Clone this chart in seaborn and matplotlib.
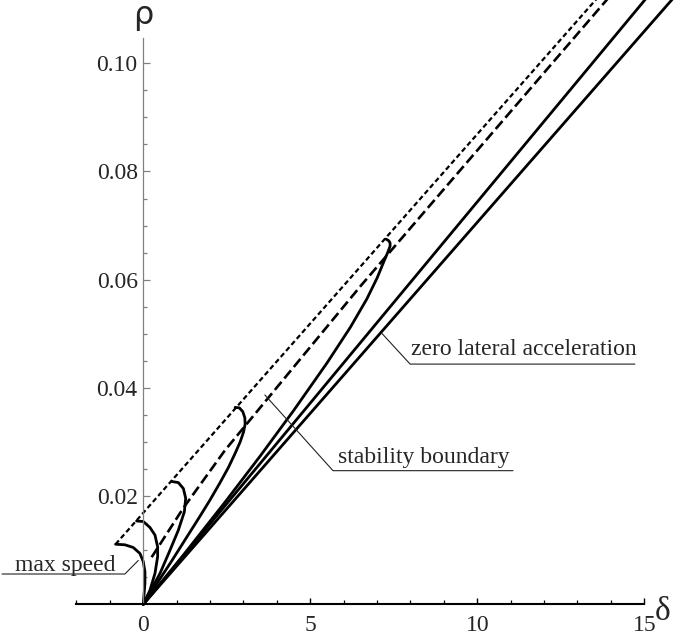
import pandas as pd
import matplotlib
matplotlib.use("Agg")
import matplotlib.pyplot as plt
from matplotlib.ticker import FixedLocator
import seaborn as sns

# speed curves: each starts on the max speed line and runs back to the origin
curve_a_delta = [7.27, 7.35, 7.39, 7.39, 7.33, 7.20, 7.00, 6.69, 6.20, 5.50, 4.50, 3.50, 2.45, 1.20, 0.0]
curve_a_rho = [0.0675, 0.0672, 0.0668, 0.0662, 0.0652, 0.0633, 0.0603, 0.0564, 0.0512, 0.0446, 0.0358, 0.0274, 0.0189, 0.0091, 0.0]

curve_b_delta = [2.75, 2.88, 2.98, 3.04, 3.05, 3.00, 2.90, 2.75, 2.55, 2.30, 2.00, 1.70, 0.85, 0.0]
curve_b_rho = [0.0364, 0.0363, 0.0356, 0.0345, 0.0333, 0.0318, 0.0300, 0.0279, 0.0253, 0.0225, 0.0193, 0.0163, 0.0080, 0.0]

curve_c_delta = [0.85, 1.05, 1.20, 1.27, 1.23, 1.05, 0.80, 0.50, 0.0]
curve_c_rho = [0.0227, 0.0225, 0.0214, 0.0196, 0.0171, 0.0137, 0.0100, 0.0057, 0.0]

curve_d_delta = [-0.20, 0.0, 0.20, 0.35, 0.43, 0.43, 0.35, 0.20, 0.0]
curve_d_rho = [0.0154, 0.0153, 0.0142, 0.0128, 0.0106, 0.0088, 0.0057, 0.0026, 0.0]

curve_e_delta = [-0.83, -0.55, -0.30, -0.10, 0.0, 0.05, 0.05, 0.0]
curve_e_rho = [0.0111, 0.0110, 0.0105, 0.0094, 0.0079, 0.0060, 0.0039, 0.0]

# zero lateral acceleration lines
zero_lat_1_delta = [0.0, 15.5]
zero_lat_1_rho = [0.0, 0.1153]
zero_lat_2_delta = [0.0, 16.5]
zero_lat_2_rho = [0.0, 0.1165]

# stability boundary (long dashes)
stab_delta = [0.25, 1.20, 2.45, 6.53, 14.5]
stab_rho = [0.0087, 0.0178, 0.0285, 0.0590, 0.1162]

# max speed line (short dashes)
maxspeed_delta = [-0.83, 14.5]
maxspeed_rho = [0.0111, 0.1184]

x_major = [0, 5, 10, 15]
x_labels = ["0", "5", "10", "15"]
x_minor = list(range(-2, 16))
y_major = [0.02, 0.04, 0.06, 0.08, 0.10]
y_labels = ["0.02", "0.04", "0.06", "0.08", "0.10"]
y_minor = [i * 0.005 for i in range(1, 21)]


def main():
    sns.set_style("white")
    plt.rcParams["font.family"] = ["Liberation Serif", "DejaVu Serif"]
    plt.rcParams["lines.scale_dashes"] = False

    fig = plt.figure(figsize=(6.85, 6.4), dpi=100)
    ax = fig.add_axes([0, 0, 1, 1])

    curves = [
        (curve_a_delta, curve_a_rho),
        (curve_b_delta, curve_b_rho),
        (curve_c_delta, curve_c_rho),
        (curve_d_delta, curve_d_rho),
        (curve_e_delta, curve_e_rho),
        (zero_lat_1_delta, zero_lat_1_rho),
        (zero_lat_2_delta, zero_lat_2_rho),
    ]
    for d, r in curves:
        df = pd.DataFrame({"delta": d, "rho": r})
        sns.lineplot(data=df, x="delta", y="rho", sort=False, estimator=None,
                     color="black", linewidth=2.0, ax=ax)

    df = pd.DataFrame({"delta": stab_delta, "rho": stab_rho})
    sns.lineplot(data=df, x="delta", y="rho", sort=False, estimator=None,
                 color="black", linewidth=1.9, linestyle=(0, (7.5, 3.2)), ax=ax)

    df = pd.DataFrame({"delta": maxspeed_delta, "rho": maxspeed_rho})
    sns.lineplot(data=df, x="delta", y="rho", sort=False, estimator=None,
                 color="black", linewidth=1.6, linestyle=(0, (3.6, 2.2)), ax=ax)

    ax.set_xlim(-4.29, 16.22)
    ax.set_ylim(-0.0066, 0.1117)

    # axes through the origin
    for side in ["top", "right"]:
        ax.spines[side].set_visible(False)
    ax.spines["bottom"].set_position(("data", 0))
    ax.spines["left"].set_position(("data", 0))
    ax.spines["bottom"].set_bounds(-2, 15)
    ax.spines["left"].set_bounds(0, 0.1046)
    ax.spines["bottom"].set_color("black")
    ax.spines["bottom"].set_linewidth(1.5)
    ax.spines["left"].set_color("#808080")
    ax.spines["left"].set_linewidth(0.9)

    ax.xaxis.set_major_locator(FixedLocator(x_major))
    ax.set_xticklabels(x_labels)
    ax.xaxis.set_minor_locator(FixedLocator(x_minor))
    ax.yaxis.set_major_locator(FixedLocator(y_major))
    ax.set_yticklabels(y_labels)
    ax.yaxis.set_minor_locator(FixedLocator(y_minor))

    ax.tick_params(axis="x", which="both", direction="in", bottom=True,
                   color="black", labelsize=17, pad=8)
    ax.tick_params(axis="x", which="major", length=4, width=1.0)
    ax.tick_params(axis="x", which="minor", length=3, width=0.9)
    ax.tick_params(axis="y", which="both", direction="in", left=True,
                   color="#808080", labelsize=17, pad=4)
    ax.tick_params(axis="y", which="major", length=5, width=0.9)
    ax.tick_params(axis="y", which="minor", length=3, width=0.9)
    ax.set_xlabel("")
    ax.set_ylabel("")

    # axis symbols
    ax.text(0, 0.1089, "ρ", fontsize=23, ha="center", va="center",
            family=["DejaVu Sans"])
    ax.text(15.56, -0.0014, "δ", fontsize=24, ha="center", va="center")

    # labels with leader lines
    ax.text(-2.344, 0.00615, "max speed", fontsize=17, ha="center", va="baseline")
    ax.plot([-4.23, -0.55, -0.15], [0.0056, 0.0056, 0.0081], color="#222222", lw=0.8)

    ax.text(11.38, 0.0461, "zero lateral acceleration", fontsize=17, ha="center", va="baseline")
    ax.plot([14.72, 7.99, 7.14], [0.0444, 0.0444, 0.0501], color="#222222", lw=0.8)

    ax.text(8.40, 0.0261, "stability boundary", fontsize=17, ha="center", va="baseline")
    ax.plot([11.07, 5.68, 3.64], [0.0247, 0.0247, 0.0387], color="#222222", lw=0.8)

    fig.savefig("out.png", dpi=100)


if __name__ == "__main__":
    main()
